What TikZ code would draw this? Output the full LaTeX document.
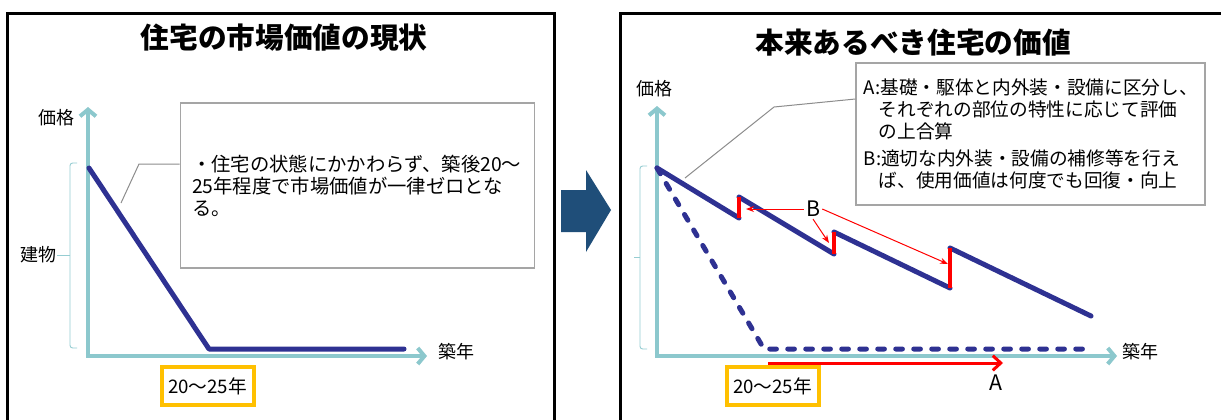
\documentclass[tikz,border=0pt]{standalone}
\usepackage{fontspec}
\setmainfont{Noto Sans CJK JP}
\usetikzlibrary{arrows.meta}
\definecolor{axisc}{RGB}{140,200,205}
\definecolor{navyc}{RGB}{46,49,146}
\definecolor{orngc}{RGB}{255,192,0}
\definecolor{boxg}{RGB}{165,165,165}
\definecolor{chevc}{RGB}{31,78,121}
\definecolor{redc}{RGB}{255,0,0}
\definecolor{bracec}{RGB}{150,205,210}
\definecolor{callc}{RGB}{140,140,140}
\begin{document}
\begin{tikzpicture}[x=0.75pt,y=-0.75pt,
  panel/.style={line width=2.25pt,black},
  titletext/.style={font=\fontsize{21.5}{24}\selectfont\bfseries,inner sep=0pt},
  lab/.style={font=\fontsize{13.5}{16}\selectfont,inner sep=0pt},
  axisline/.style={line width=3pt,axisc,{Straight Barb[length=5pt,width=12pt]}-{Straight Barb[length=5pt,width=12pt]}},
  bracel/.style={line width=0.7pt,bracec,rounded corners=2pt},
  navyline/.style={line width=3.75pt,navyc,line cap=round,line join=round},
  navydash/.style={line width=3.75pt,navyc,line cap=round,line join=round,dash pattern=on 5pt off 8.5pt},
  redseg/.style={line width=3pt,redc},
  redarrow/.style={line width=2.25pt,redc,-{Straight Barb[length=6pt,width=11pt]}},
  barrow/.style={line width=0.75pt,redc,-{Stealth[length=6pt,width=4.5pt]}},
  callout/.style={line width=0.75pt,callc},
  infobox/.style={draw=boxg,line width=0.9pt,fill=white,align=left,inner xsep=9pt,inner ysep=0pt},
  yearbox/.style={draw=orngc,line width=3pt,fill=white,minimum width=69pt,minimum height=28pt,inner sep=0pt,font=\fontsize{14}{16}\selectfont},
  letter/.style={font=\fontsize{16}{18}\selectfont,inner sep=1.5pt}
]
\useasboundingbox (0,0) rectangle (1221,419);
\fill[white] (0,0) rectangle (1221,419);

% panels
\draw[panel] (7,425) -- (7,13) -- (554,13) -- (554,425);
\draw[panel] (620,425) -- (620,13) -- (1228,13);

% titles
\node[titletext] (t1) at (284,38) {住宅の市場価値の現状};
\node[titletext] (t2) at (913,43) {本来あるべき住宅の価値};

% chevron
\fill[chevc] (561,190) -- (586,190) -- (586,170) -- (611,210) -- (586,252) -- (586,232) -- (561,232) -- cycle;

% ---------- left chart ----------
\coordinate (L0) at (88,356);
\coordinate (Ltop) at (88,107);
\coordinate (Lright) at (427,356);
\draw[axisline] (Ltop) -- (L0) -- (Lright);
\node[lab] (p1) at (56,118) {価格};
\node[lab] (k1) at (456,352) {築年};
\node[lab] (b1) at (39,255) {建物};
\draw[bracel] (77,163) -- (70,163) -- (70,348) -- (77,348);
\draw[bracel] (70,255) -- (b1.east);

\node[infobox,text width=248pt,minimum width=266pt,minimum height=123.75pt,font=\fontsize{14.5}{16.5}\selectfont] (bx1) at (357.5,185.5)
  {・住宅の状態にかかわらず、築後20～\\25年程度で市場価値が一律ゼロとな\\る。};
\coordinate (c1a) at (139,164);
\coordinate (c1b) at (121,203);
\draw[callout] (bx1.west |- c1a) -- (c1a) -- (c1b);

\coordinate (n1) at (89,168);
\coordinate (n2) at (209,349);
\coordinate (n3) at (404,349);
\draw[navyline] (n1) -- (n2) -- (n3);

\node[yearbox] (y1) at (207.5,386) {20～25年};

% ---------- right chart ----------
\coordinate (R0) at (657,356);
\coordinate (Rtop) at (657,106);
\coordinate (Rright) at (1117,356);
\draw[axisline] (Rtop) -- (R0) -- (Rright);
\node[lab] (p2) at (654,89) {価格};
\node[lab] (k2) at (1140,352) {築年};
\draw[bracel] (647,166) -- (640,166) -- (640,349) -- (647,349);
\draw[bracel] (640,257) -- (634,257);

\node[infobox,text width=250pt,minimum width=261.75pt,minimum height=106.5pt,inner xsep=5.8pt,font=\fontsize{14}{16.5}\selectfont] (bx2) at (1030.5,134)
  {A:基礎・駆体と内外装・設備に区分し、\\
   \hspace*{0.8em}それぞれの部位の特性に応じて評価\\
   \hspace*{0.8em}の上合算\\[4pt]
   B:適切な内外装・設備の補修等を行え\\
   \hspace*{0.8em}ば、使用価値は何度でも回復・向上};
\coordinate (c2a) at (774,107);
\coordinate (c2b) at (685,178);
\draw[callout] (bx2.west |- 0,99) -- (c2a) -- (c2b);

% dashed line
\coordinate (d1) at (657,168);
\coordinate (d2) at (764,349);
\coordinate (d3) at (1091,349);
\draw[navydash] (d1) -- (d2) -- (d3);

% sawtooth
\coordinate (s0) at (657,168);
\coordinate (s1a) at (739,218);
\coordinate (s1b) at (739,197);
\coordinate (s2a) at (834,254);
\coordinate (s2b) at (834,232);
\coordinate (s3a) at (950,288);
\coordinate (s3b) at (950,248);
\coordinate (s4) at (1091,316);
\draw[navyline] (s0) -- (s1a);
\draw[navyline] (s1b) -- (s2a);
\draw[navyline] (s2b) -- (s3a);
\draw[navyline] (s3b) -- (s4);
\draw[redseg] (s1a) -- (s1b);
\draw[redseg] (s2a) -- (s2b);
\draw[redseg] (s3a) -- (s3b);

% B arrows
\node[letter] (B) at (813,209) {B};
\coordinate (bt1) at (746,209);
\coordinate (bt2) at (829,243);
\coordinate (bt3) at (948,264);
\draw[barrow] (B.west) -- (bt1);
\draw[barrow] (B.south) -- (bt2);
\draw[barrow] (B.east) -- (bt3);

% A arrow
\coordinate (a1) at (768,363);
\coordinate (a2) at (1003,363);
\draw[redarrow] (a1) -- (a2);
\node[letter] (A) at (996,383) {A};

\node[yearbox] (y2) at (772.5,386) {20～25年};
\end{tikzpicture}
\end{document}
